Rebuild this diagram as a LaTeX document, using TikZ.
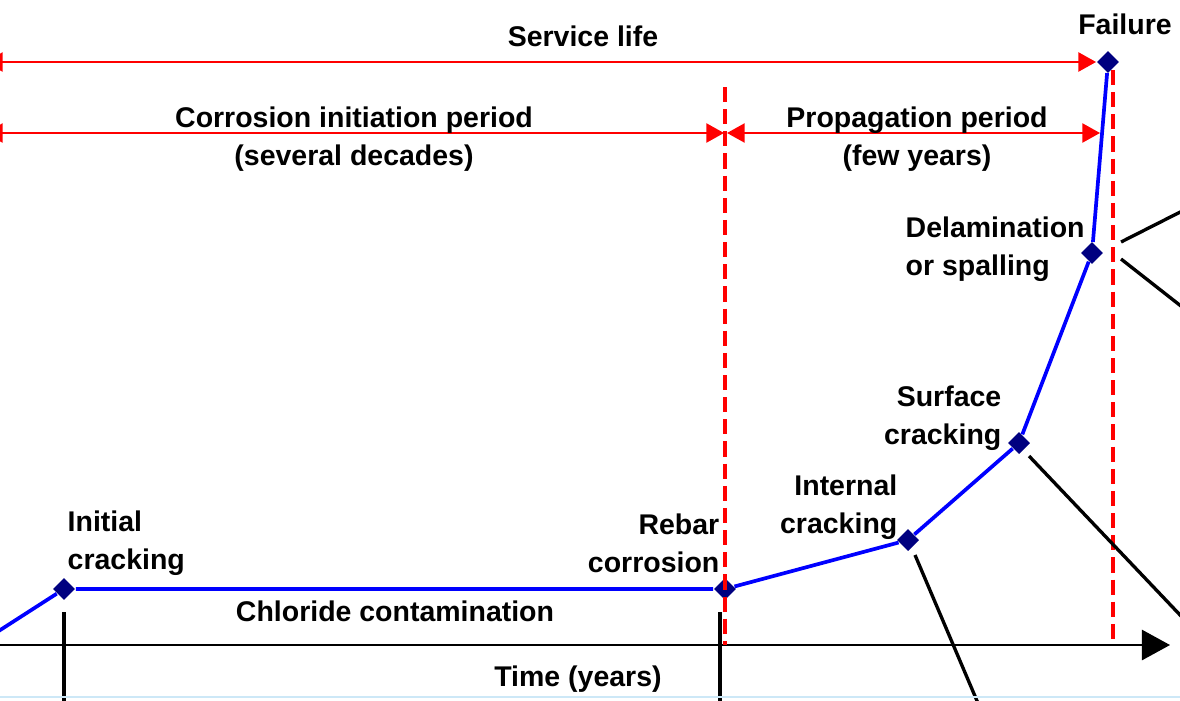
\documentclass[tikz,border=0pt]{standalone}
\usepackage{amsmath}
\usepackage{fontspec}
\setmainfont{Liberation Sans}
\usepackage{tikz}
\usepackage{color}
\usetikzlibrary{arrows.meta, calc, shapes.geometric}
\definecolor{navy}{RGB}{0,0,128}
\definecolor{paleblue}{RGB}{205,232,247}
\tikzset{
  lbl/.style={font=\fontsize{8.1}{10.8}\selectfont\bfseries, inner sep=0pt},
  stagept/.style={diamond, fill=navy, inner sep=0pt, minimum size=6.4pt},
  dimline/.style={draw=red, line width=0.6pt, {Triangle[length=5pt,width=5.4pt]}-{Triangle[length=5pt,width=5.4pt]}},
  limitline/.style={draw=red, line width=1.15pt, dash pattern=on 4.3pt off 2pt},
  damage/.style={draw=blue, line width=1.05pt},
  callout/.style={draw=black, line width=0.95pt}
}

\begin{document}
\begin{tikzpicture}[x=0.01cm, y=-0.01cm]
\useasboundingbox (0,0) rectangle (1180,700);
\clip (0,0) rectangle (1180,700);

%.... stages on the damage curve
\node[stagept] (init) at (64,589) {};
\node[stagept] (rebar) at (725,589) {};
\node[stagept] (internal) at (908,540) {};
\node[stagept] (surface) at (1019,443) {};
\node[stagept] (delam) at (1092,253) {};
\node[stagept] (failure) at (1108,62) {};
\coordinate (origin) at (-20,643);

\draw[damage] (origin) -- (init) -- (rebar) -- (internal) -- (surface) -- (delam) -- (failure);

%.... time axis and period limits
\coordinate (axisL) at (-10,645);
\coordinate (axisR) at (1170,645);
\draw[line width=0.6pt, -{Triangle[length=8pt,width=8.6pt]}] (axisL) -- (axisR);
\draw[limitline] (725,87) -- (725,645);
\draw[limitline] (1113,70) -- (1113,645);

%.... periods
\coordinate (svcL) at (-15,62);
\coordinate (iniL) at (-15,133);
\coordinate (iniR) at (724,133);
\coordinate (proL) at (727,133);
\coordinate (proR) at (1100,133);
\draw[dimline] (svcL) -- (failure.west);
\draw[dimline] (iniL) -- (iniR);
\draw[dimline] (proL) -- (proR);

\node[lbl] (svc) at (583,36) {Service life};
\node[lbl] (fail) at (1125,24) {Failure};
\node[lbl, align=center] (ini) at (354,139) {Corrosion initiation period\\(several decades)};
\node[lbl, align=center] (pro) at (917,139) {Propagation period\\(few years)};

%.... stage labels
\node[lbl, align=left, anchor=west] (initlbl) at (67,543) {Initial\\cracking};
\node[lbl, align=right, anchor=east] (rebarlbl) at (720,543) {Rebar\\corrosion};
\node[lbl] (chloride) at (395,611) {Chloride contamination};
\node[lbl, align=right, anchor=east] (internallbl) at (898,507) {Internal\\cracking};
\node[lbl, align=right, anchor=east] (surfacelbl) at (1002,418) {Surface\\cracking};
\node[lbl, align=left, anchor=west] (delamlbl) at (905,249) {Delamination\\or spalling};
\node[lbl] (time) at (578,679) {Time (years)};

%.... pointers to the pictures
\coordinate (initfoot) at (64,710);
\coordinate (rebarfoot) at (720,710);
\coordinate (internalfoot) at (983,715);
\coordinate (surfacefoot) at (1200,636);
\coordinate (delamfootA) at (1200,202);
\coordinate (delamfootB) at (1200,321);
\draw[callout] ($(init)+(0,23)$) -- (initfoot);
\draw[callout] ($(rebar)+(-5,23)$) -- (rebarfoot);
\draw[callout] ($(internal)+(7,15)$) -- (internalfoot);
\draw[callout] ($(surface)+(10,13)$) -- (surfacefoot);
\draw[callout] ($(delam)+(29,-11)$) -- (delamfootA);
\draw[callout] ($(delam)+(29,6)$) -- (delamfootB);

\draw[paleblue, line width=0.5pt] (0,697) -- (1180,697);
\end{tikzpicture}
\end{document}
